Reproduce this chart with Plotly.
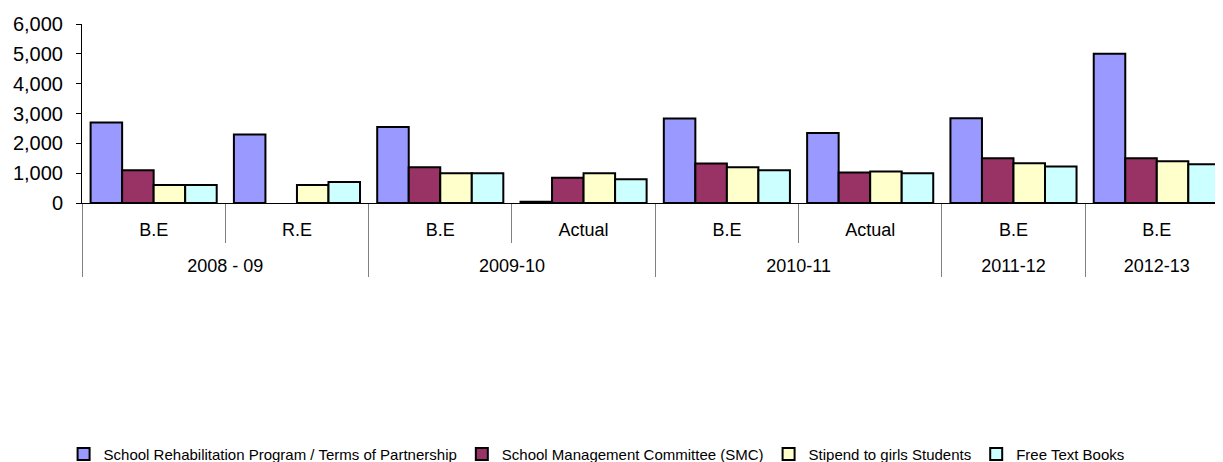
import plotly.graph_objects as go

years = ["2008 - 09", "2008 - 09", "2009-10", "2009-10", "2010-11", "2010-11", "2011-12", "2012-13"]
budget_types = ["B.E", "R.E", "B.E", "Actual", "B.E", "Actual", "B.E", "B.E"]

series_names = [
    "School Rehabilitation Program / Terms of Partnership",
    "School Management Committee (SMC)",
    "Stipend to girls Students",
    "Free Text Books",
]
school_rehab = [2700, 2300, 2550, 40, 2830, 2350, 2840, 5000]
smc = [1100, None, 1200, 850, 1320, 1020, 1500, 1500]
stipend = [600, 600, 1000, 1000, 1200, 1060, 1330, 1400]
free_books = [600, 700, 1000, 800, 1100, 1000, 1220, 1300]

colors = ["#9999FF", "#993366", "#FFFFCC", "#CCFFFF"]

# second (blank) line under the sub-category labels gives room before the year row
type_labels = [t + "<br><span style='font-size:24px'> </span>" for t in budget_types]

fig = go.Figure()
for name, vals, col in zip(series_names, [school_rehab, smc, stipend, free_books], colors):
    fig.add_trace(go.Bar(
        x=[years, type_labels], y=vals, name=name,
        marker=dict(color=col, line=dict(color="black", width=2)),
    ))

FONT = "Arial, Liberation Sans, sans-serif"
fig.update_layout(
    width=1215, height=454,
    margin=dict(l=74, r=0, t=16, b=259, autoexpand=False),
    paper_bgcolor="white", plot_bgcolor="white",
    barmode="group", bargap=0.12, bargroupgap=0,
    font=dict(family=FONT, size=18, color="black"),
    showlegend=True,
    legend=dict(
        orientation="h", x=0.451, xanchor="center", y=-1.404, yanchor="middle",
        font=dict(family=FONT, size=15, color="black"),
        traceorder="normal", itemwidth=30,
    ),
)
fig.update_xaxes(
    type="multicategory", range=[-0.5, 7.462], automargin=False,
    showline=True, linecolor="black", linewidth=1,
    ticks="outside", tickson="boundaries", ticklen=39, tickcolor="#808080", tickwidth=1,
    ticklabelstandoff=10,
    showdividers=True, dividercolor="#808080", dividerwidth=1,
    showgrid=False, zeroline=False,
    tickfont=dict(family=FONT, size=18, color="black"),
)
fig.update_yaxes(
    range=[0, 6000], dtick=1000, tickformat=",", automargin=False,
    showline=True, linecolor="black", linewidth=1,
    ticks="outside", ticklen=5, tickcolor="black",
    ticklabelstandoff=9,
    showgrid=False, zeroline=False,
    tickfont=dict(family=FONT, size=20, color="black"),
)

fig.write_html("out.html")
